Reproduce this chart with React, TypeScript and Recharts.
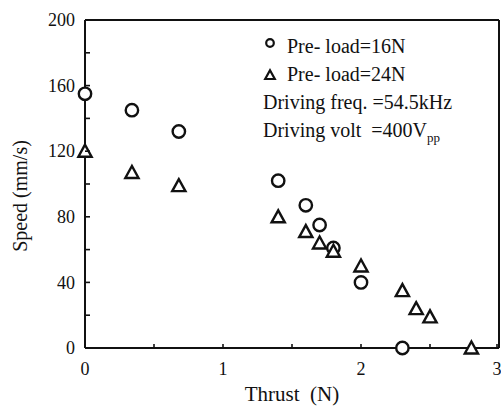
import React from 'react'
import { ScatterChart, Scatter, XAxis, YAxis, ReferenceLine, Legend, Label } from 'recharts'

const thrust16 = [0, 0.34, 0.68, 1.4, 1.6, 1.7, 1.8, 2.0, 2.3]
const speed16 = [155, 145, 132, 102, 87, 75, 61, 40, 0]
const thrust24 = [0, 0.34, 0.68, 1.4, 1.6, 1.7, 1.8, 2.0, 2.3, 2.4, 2.5, 2.8]
const speed24 = [120, 107, 99, 80, 71, 64, 59, 50, 35, 24, 19, 0]

const seriesNames = ['Pre- load=16N', 'Pre- load=24N']
const noteLines = ['Driving freq. =54.5kHz', 'Driving volt\u00a0 =400V']
const noteSub = 'pp'

const xTicks = [0, 0.5, 1, 1.5, 2, 2.5, 3]
const xLabels = [0, 1, 2, 3]
const yTicks = [0, 20, 40, 60, 80, 100, 120, 140, 160, 180, 200]
const yLabels = [0, 40, 80, 120, 160, 200]

const data16 = thrust16.map((t, i) => ({ thrust: t, speed: speed16[i] }))
const data24 = thrust24.map((t, i) => ({ thrust: t, speed: speed24[i] }))

const INK = '#111'
const FONT = '"Liberation Serif", "Times New Roman", serif'

const CircleMark = ({ cx, cy }: any) => (
  <circle cx={cx} cy={cy} r={6.2} fill="#fff" stroke={INK} strokeWidth={2.4} />
)

const TriMark = ({ cx, cy }: any) => (
  <polygon
    points={`${cx},${cy - 6.5} ${cx - 6.6},${cy + 5.5} ${cx + 6.6},${cy + 5.5}`}
    fill="#fff"
    stroke={INK}
    strokeWidth={2.4}
    strokeLinejoin="miter"
  />
)

const YTick = ({ x, y, payload }: any) => (
  <g>
    <line x1={x + 10} y1={y} x2={x + 15} y2={y} stroke={INK} strokeWidth={1.6} />
    {yLabels.includes(payload.value) && (
      <text x={x} y={y} dy="0.34em" textAnchor="end" fontSize={18} fontFamily={FONT} fill={INK}>
        {payload.value}
      </text>
    )}
  </g>
)

const XTick = ({ x, y, payload }: any) => (
  <g>
    <line x1={x} y1={y - 14} x2={x} y2={y - 18} stroke={INK} strokeWidth={1.6} />
    {xLabels.includes(payload.value) && (
      <text x={x} y={y} dy="0.71em" textAnchor="middle" fontSize={18} fontFamily={FONT} fill={INK}>
        {payload.value}
      </text>
    )}
  </g>
)

const LegendBox = ({ payload }: any) => (
  <svg width={240} height={122} style={{ display: 'block' }}>
    {(payload ?? []).map((p: any, i: number) => (
      <g key={p.value}>
        {i === 0 ? (
          <circle cx={15} cy={18} r={3.8} fill="none" stroke={INK} strokeWidth={2.2} />
        ) : (
          <polygon points="15,45.2 10.2,54 19.8,54" fill="none" stroke={INK} strokeWidth={2.2} />
        )}
        <text x={32} y={28 + i * 28} fontSize={20} fontFamily={FONT} fill={INK}>
          {p.value}
        </text>
      </g>
    ))}
    <text x={8} y={84} fontSize={20} fontFamily={FONT} fill={INK}>
      {noteLines[0]}
    </text>
    <text x={8} y={112} fontSize={20} fontFamily={FONT} fill={INK}>
      {noteLines[1]}
      <tspan fontSize={13} dy={5}>{noteSub}</tspan>
    </text>
  </svg>
)

const SpeedLabel = ({ viewBox }: any) => {
  const cx = 27
  const cy = viewBox.y + viewBox.height / 2 + 12
  return (
    <text
      x={cx}
      y={cy}
      transform={`rotate(-90 ${cx} ${cy})`}
      textAnchor="middle"
      fontSize={20}
      fontFamily={FONT}
      fill={INK}
    >
      Speed (mm/s)
    </text>
  )
}

export default function App() {
  return (
    <div style={{ position: 'absolute', left: 0, top: 0, width: 501, height: 408, background: '#fff' }}>
      <ScatterChart width={501} height={408} margin={{ top: 20, right: 2, bottom: 0, left: 0 }}>
        <XAxis
          type="number"
          dataKey="thrust"
          domain={[0, 3]}
          ticks={xTicks}
          height={60}
          tick={<XTick />}
          tickLine={false}
          tickSize={0}
          tickMargin={14}
          axisLine={false}
        >
          <Label
            value={'Thrust\u00a0 (N)'}
            position="insideBottom"
            offset={7}
            fontSize={21}
            fontFamily={FONT}
            fill={INK}
          />
        </XAxis>
        <YAxis
          type="number"
          dataKey="speed"
          domain={[0, 200]}
          ticks={yTicks}
          width={85}
          tick={<YTick />}
          tickLine={false}
          tickSize={0}
          tickMargin={10}
          axisLine={false}
        >
          <Label content={<SpeedLabel />} />
        </YAxis>
        <ReferenceLine y={0} stroke={INK} strokeWidth={2} zIndex={100} />
        <ReferenceLine x={0} stroke={INK} strokeWidth={2} zIndex={100} />
        <ReferenceLine y={200} stroke={INK} strokeWidth={2} zIndex={100} />
        <ReferenceLine x={3} stroke={INK} strokeWidth={2} zIndex={100} />
        <Legend
          layout="vertical"
          align="center"
          verticalAlign="middle"
          wrapperStyle={{ left: 255, top: 25, width: 240 }}
          content={<LegendBox />}
        />
        <Scatter name={seriesNames[0]} data={data16} shape={<CircleMark />} zIndex={700} isAnimationActive={false} />
        <Scatter name={seriesNames[1]} data={data24} shape={<TriMark />} zIndex={710} isAnimationActive={false} />
      </ScatterChart>
    </div>
  )
}
